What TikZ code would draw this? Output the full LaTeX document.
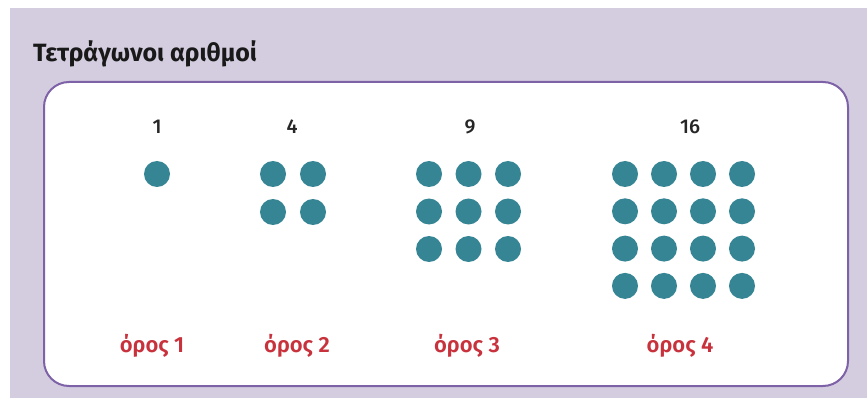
\documentclass[tikz,border=0pt]{standalone}
\usepackage{fontspec}
\setmainfont{Fira Sans}
\newfontfamily\titlefont{Fira Sans Bold}
\newfontfamily\labelfont{Fira Sans SemiBold}
\newfontfamily\numfont{Fira Sans Medium}
\definecolor{bgpurple}{HTML}{D4CDE0}
\definecolor{framepurple}{HTML}{7E62A8}
\definecolor{dotteal}{HTML}{358595}
\definecolor{termred}{HTML}{C8323C}
\begin{document}
\begin{tikzpicture}[x=1pt,y=-1pt,
  dot/.style={circle,fill=dotteal,inner sep=0pt,minimum size=26pt},
  numlabel/.style={anchor=base,inner sep=0pt,font=\numfont\fontsize{20}{20}\selectfont,text=black!85},
  termlabel/.style={anchor=base,inner sep=0pt,font=\labelfont\fontsize{22}{22}\selectfont,text=termred},
  panelbox/.style={draw=framepurple,line width=2pt,fill=white,rounded corners=25pt,inner sep=0pt,anchor=north west}]
\useasboundingbox (0,0) rectangle (867,398);
\fill[white] (0,0) rectangle (867,398);
\fill[bgpurple] (10,8) rectangle (867,398);
\node[anchor=base west,inner sep=0pt,font=\titlefont\fontsize{25}{25}\selectfont,text=black!90] (title) at (33,62) {Τετράγωνοι αριθμοί};
\node[panelbox,minimum width=804pt,minimum height=304pt] (panel) at (43,81) {};
% numbers
\node[numlabel] (n1) at (157,134) {1};
\node[numlabel] (n4) at (292,134) {4};
\node[numlabel] (n9) at (470,134) {9};
\node[numlabel] (n16) at (690,134) {16};
% dots
\node[dot] (a-1-1) at (157,174) {};
\foreach \i in {1,2} \foreach \j in {1,2}
  \node[dot] (b-\i-\j) at ({273+(\j-1)*40},{174+(\i-1)*38}) {};
\foreach \i in {1,2,3} \foreach \j in {1,2,3}
  \node[dot] (c-\i-\j) at ({429+(\j-1)*39.5},{174+(\i-1)*37.5}) {};
\foreach \i in {1,2,3,4} \foreach \j in {1,2,3,4}
  \node[dot] (d-\i-\j) at ({625+(\j-1)*39},{174+(\i-1)*37.3}) {};
% term labels
\node[termlabel] (t1) at (152,352) {όρος 1};
\node[termlabel] (t2) at (297,352) {όρος 2};
\node[termlabel] (t3) at (467,352) {όρος 3};
\node[termlabel] (t4) at (680,352) {όρος 4};
\end{tikzpicture}
\end{document}
